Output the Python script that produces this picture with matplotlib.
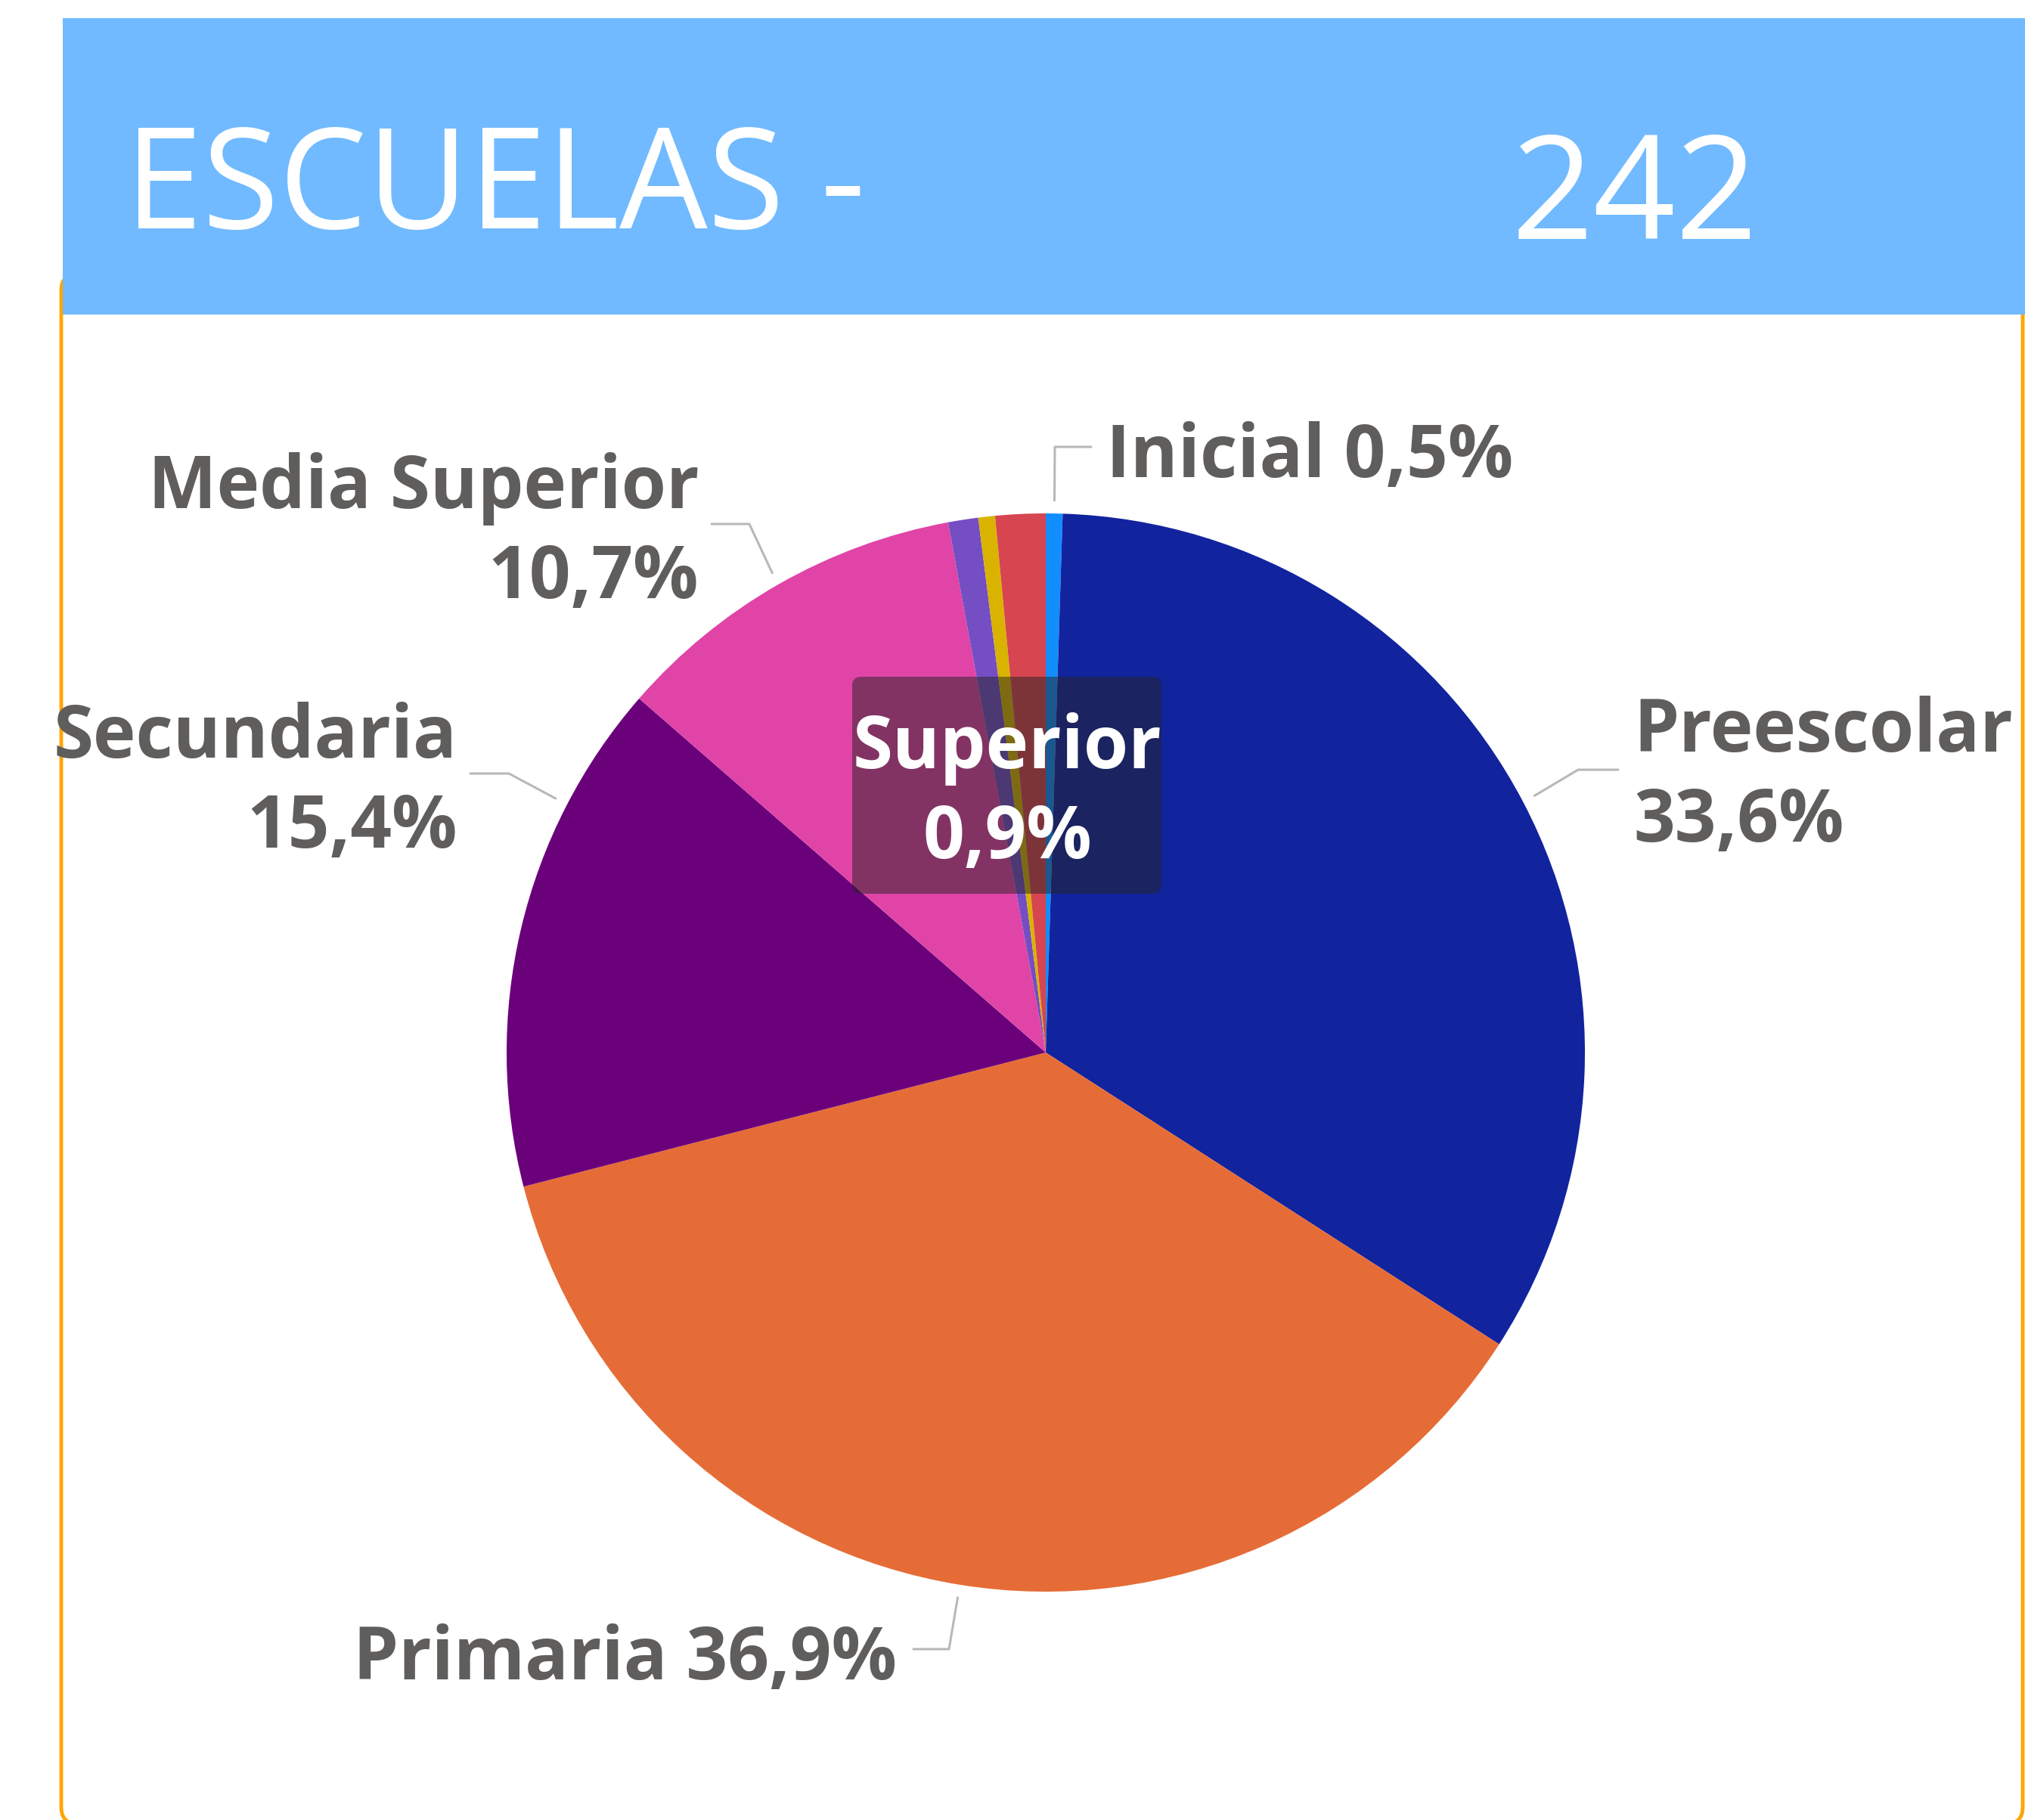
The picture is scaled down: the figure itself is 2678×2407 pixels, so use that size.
import numpy as np
import matplotlib.pyplot as plt
from matplotlib.patches import FancyBboxPatch, Rectangle

plt.rcParams['font.family'] = ['Open Sans', 'DejaVu Sans']

W, H = 2678, 2407

# data
niveles = ["Inicial", "Preescolar", "Primaria", "Secundaria",
           "Media Superior", "Superior", "Especial", "Otros"]
porcentajes = [0.5, 33.6, 36.9, 15.4, 10.7, 0.9, 0.5, 1.5]
colores = ["#118DFF", "#12239E", "#E66C37", "#6B007B",
           "#E044A7", "#744EC2", "#D9B300", "#D64550"]
total_escuelas = 242

gris = "#605E5C"
linea = "#B8B8B8"
fs_lab = 69


def Y(y):
    # pixel row (from top) -> data y
    return H - y


fig = plt.figure(figsize=(W / 100, H / 100), dpi=100)
ax = fig.add_axes([0, 0, 1, 1])

# card border + header
ax.add_patch(FancyBboxPatch((81, Y(2412)), 2594, 2050,
                            boxstyle="round,pad=0,rounding_size=22",
                            fc="white", ec="#FFA500", lw=3.5, zorder=0))
ax.add_patch(Rectangle((83, Y(416)), W - 83, 392, fc="#71BAFF", ec="none", zorder=1))
ax.text(165, Y(253), "ESCUELAS -", color="white", fontsize=133, fontweight="normal",
        va="center", ha="left", zorder=2)
ax.text(2162, Y(266), str(total_escuelas), color="white", fontsize=137, fontweight="normal",
        va="center", ha="center", zorder=2)

# pie
cx, cy, R = 1383, 1392, 713
wedges, _ = ax.pie(porcentajes, colors=colores, startangle=90, counterclock=False,
                   center=(cx, Y(cy)), radius=R, frame=True,
                   wedgeprops=dict(linewidth=0))

# mid angles of each slice (degrees clockwise from top)
cum = np.cumsum([0] + porcentajes[:-1])
mid = [(c + p / 2) / 100 * 360 for c, p in zip(cum, porcentajes)]


def etiqueta(ang, codo, fin, txt, tx, ty, ha):
    a = np.radians(ang)
    r = R * 1.024
    x0, y0 = cx + r * np.sin(a), cy - r * np.cos(a)
    ax.plot([x0, codo[0], fin[0]], [Y(y0), Y(codo[1]), Y(fin[1])],
            color=linea, lw=2.2, solid_capstyle="round", zorder=3)
    ax.text(tx, Y(ty), txt, color=gris, fontsize=fs_lab, fontweight="bold",
            ha=ha, va="center", linespacing=1.3, zorder=3)


etiqueta(mid[0], (1395, 591), (1443, 591), "Inicial 0,5%", 1463, 605, "left")
etiqueta(mid[1], (2087, 1018), (2140, 1018), "Preescolar\n33,6%", 2160, 1028, "left")
etiqueta(mid[2], (1255, 2181), (1208, 2181), "Primaria 36,9%", 1186, 2196, "right")
etiqueta(297.4, (673, 1023), (622, 1023), "Secundaria\n15,4%", 605, 1036, "right")
etiqueta(mid[4], (991, 693), (941, 693), "Media Superior\n10,7%", 924, 706, "right")

# tooltip-style label for Superior
ax.add_patch(FancyBboxPatch((1127, Y(1182)), 409, 287,
                            boxstyle="round,pad=0,rounding_size=12",
                            fc="#252423", ec="none", alpha=0.5, zorder=4))
ax.text(1332, Y(1050), "Superior\n0,9%", color="white", fontsize=fs_lab, fontweight="bold",
        ha="center", va="center", linespacing=1.3, zorder=5)

ax.set_xlim(0, W)
ax.set_ylim(0, H)
ax.set_aspect("auto")
ax.axis("off")

fig.savefig("out.png", dpi=100, facecolor="white")
